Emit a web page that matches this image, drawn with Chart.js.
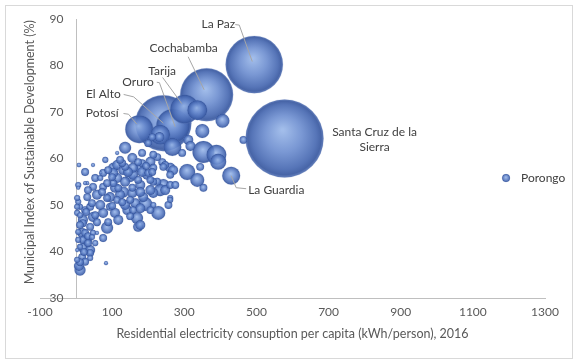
<!DOCTYPE html>
<html>
<head>
<meta charset="utf-8">
<script src="https://cdn.jsdelivr.net/npm/chart.js@4/dist/chart.umd.min.js"></script>
<style>
html,body{margin:0;padding:0;background:#fff;}
#wrap{width:582px;height:363px;position:relative;}
</style>
</head>
<body>
<div id="wrap"><canvas id="c" width="582" height="363"></canvas></div>
<script>
// ---- data ----
const cityNames = ['Santa Cruz de la Sierra','La Paz','El Alto','Cochabamba','Oruro','Tarija','Potosí','La Guardia','Porongo'];
// residential electricity consumption per capita (kWh/person), 2016
const consumption = [
  578, 494, 242, 362, 269, 301, 175, 430, 1192,
  336, 350, 406, 464, 353, 389, 394, 308, 336, 353, 267, 233, 294, 311, 317, 344, 261, 239, 242, 225,
  261, 228, 214, 225, 136, 211, 200, 231, 214, 183, 156, 136, 183, 247, 269, 103, 75, 114, 150, 197,
  261, 8, 47, 69, 6, 114, 114, 103, 131, 178, 206, 200, 158, 136, 103, 75, 47, 67, 31, 178, 214, 233,
  186, 156, 122, 94, 58, 31, 6, 192, 242, 11, 3, 19, 47, 75, 108, 142, 169, 172, 86, 75, 39, 17, 31,
  6, 19, 39, 17, 3, 25, 11, 83, 47, 3, 261,
  3, 11, 25, 39, 19, 6, 25, 19, 33, 11, 39, 8, 53, 94, 44, 58, 136, 164, 178, 128, 158, 183, 214, 100,
  172, 206, 86, 33, 6, 25, 108, 131, 156, 178, 206, 3, 86, 114, 150, 261, 158, 214,
  25, 53, 89, 122, 144, 172, 194, 211, 117, 72, 44, 67, 100, 128, 178, 206, 150, 117, 89, 58,
  28, 11, 33, 53, 22, 11, 39, 247, 275, 256, 81
];
// municipal index of sustainable development (%)
const sustainabilityIndex = [
  64.3, 80.2, 67.6, 73.7, 67.0, 70.6, 66.3, 56.3, 55.8,
  70.4, 65.9, 68.1, 64.0, 61.4, 60.8, 59.3, 57.1, 55.4, 53.7, 62.5, 65.1, 61.2, 64.0, 62.7, 58.2, 58.0, 59.2, 54.3, 55.0,
  51.5, 48.3, 52.6, 60.3, 62.3, 64.6, 63.3, 64.6, 60.8, 61.2, 60.1, 58.2, 59.0, 58.6, 57.5, 58.0, 56.9, 55.8, 56.0, 56.5,
  54.3, 58.6, 58.6, 56.9, 54.3, 61.2, 58.6, 56.9, 57.5, 58.0, 59.3, 56.9, 56.5, 55.0, 54.7, 53.9, 53.9, 55.8, 54.7, 54.3, 55.0, 53.2,
  51.7, 52.6, 52.2, 51.7, 52.2, 51.7, 50.7, 50.2, 58.2, 49.6, 48.3, 46.8, 47.4, 48.3, 48.3, 48.9, 47.2, 45.3, 45.1, 42.9, 45.3, 44.0, 42.5,
  42.5, 40.8, 40.3, 38.8, 38.2, 37.8, 36.0, 37.5, 44.0, 40.3, 51.1,
  49.6, 47.8, 48.9, 49.6, 46.1, 44.2, 44.0, 42.5, 41.8, 41.0, 39.7, 36.9, 47.8, 49.6, 43.1, 44.0, 50.0, 50.4, 45.7, 59.0, 58.0, 57.1, 58.0, 56.0,
  55.4, 55.4, 54.7, 53.2, 53.7, 54.7, 53.7, 52.8, 53.7, 52.8, 53.2, 51.5, 51.5, 51.1, 51.1, 56.5, 48.9, 50.0,
  57.1, 55.8, 57.5, 59.7, 57.1, 59.2, 58.4, 57.1, 53.6, 52.8, 50.4, 50.0, 49.8, 50.6, 49.3, 48.9, 47.6, 46.8, 46.3, 46.3,
  48.5, 45.7, 43.3, 41.8, 39.9, 37.7, 38.6, 53.2, 54.3, 50.0, 59.7
];
// population (thousands) -> bubble size
const population = [
  1460, 790, 754, 675, 278, 202, 188, 78, 15,
  96, 47, 47, 15, 116, 96, 62, 62, 47, 15, 78, 96, 15, 24, 24, 15, 24, 15, 35, 15,
  9, 47, 24, 15, 35, 15, 15, 24, 15, 15, 24, 15, 15, 15, 24, 24, 15, 24, 24, 24,
  15, 5, 4, 2, 9, 4, 24, 24, 24, 24, 24, 15, 24, 24, 15, 15, 15, 9, 4, 24, 15, 35,
  24, 24, 24, 24, 24, 15, 9, 47, 15, 9, 9, 24, 24, 24, 24, 24, 35, 24, 35, 15, 15, 24, 24,
  9, 24, 24, 15, 9, 15, 30, 4, 9, 4, 9,
  9, 9, 15, 15, 15, 9, 15, 15, 15, 9, 15, 24, 15, 15, 9, 4, 24, 24, 24, 15, 24, 24, 15, 15,
  15, 15, 15, 15, 4, 4, 24, 30, 15, 24, 24, 9, 15, 15, 15, 15, 15, 9,
  15, 15, 15, 15, 24, 15, 15, 15, 15, 15, 15, 24, 15, 15, 24, 15, 15, 24, 15, 15,
  15, 15, 15, 9, 15, 15, 9, 24, 15, 15, 9
];
const xTickValues = [-100, 100, 300, 500, 700, 900, 1100, 1300];
const yTickValues = [30, 40, 50, 60, 70, 80, 90];
const xTitle = 'Residential electricity consuption per capita (kWh/person), 2016';
const yTitle = 'Municipal Index of Sustainable Development (%)';

// ---- build ----
const FONT = 'Lato, "Liberation Sans", sans-serif';
const radiusOf = p => 1.02 * Math.sqrt(p);
const points = consumption.map((x, i) => ({
  x: x, y: sustainabilityIndex[i], r: radiusOf(population[i]), pop: population[i],
  name: i < cityNames.length ? cityNames[i] : ''
})).sort((a, b) => b.pop - a.pop);

function bubbleFill(ctx) {
  const chart = ctx.chart;
  const raw = ctx.raw;
  const fallback = 'rgba(90,122,195,0.9)';
  if (!raw || !chart.scales || !chart.scales.x || !chart.scales.y) return fallback;
  const cx = chart.scales.x.getPixelForValue(raw.x);
  const cy = chart.scales.y.getPixelForValue(raw.y);
  const r = Math.max(raw.r, 1);
  if (!isFinite(cx) || !isFinite(cy)) return fallback;
  const g = chart.ctx.createRadialGradient(cx - r * 0.05, cy - r * 0.22, r * 0.03, cx, cy, r);
  g.addColorStop(0, 'rgba(152,182,232,0.9)');
  g.addColorStop(0.45, 'rgba(104,138,206,0.88)');
  g.addColorStop(0.82, 'rgba(68,102,176,0.9)');
  g.addColorStop(0.94, 'rgba(56,88,160,0.92)');
  g.addColorStop(1, 'rgba(86,116,182,0.9)');
  return g;
}

// label placement (pixel offsets from the bubble centre)
const labelStyle = {
  'La Paz':      {text: [[-36, -40]], align: 'center', leader: [[-19, -40], [-15, -39.5], [-2, -3]]},
  'Cochabamba':  {text: [[-23, -47]], align: 'center', leader: [[-18.5, -38], [-2.5, -5]]},
  'Tarija':      {text: [[-22.5, -38.5]], align: 'center', leader: [[-22, -31.7], [-3, -5.7]]},
  'Oruro':       {text: [[-35, -43.7]], align: 'center', leader: [[-16.3, -43.7], [-13.7, -43.3], [2, 0.7]]},
  'El Alto':     {text: [[-60, -28.7]], align: 'center', leader: [[-39.7, -28.7], [-29.7, -26.3], [0, 0]]},
  'Potosí':      {text: [[-37, -15.7]], align: 'center', leader: [[-15.7, -15.7], [-10.7, -15], [-2.3, -5]]},
  'Santa Cruz de la Sierra': {text: [[90, -6.5], [90, 8.5]], lines: ['Santa Cruz de la', 'Sierra'], align: 'center'},
  'La Guardia':  {text: [[17, 14.5]], align: 'left', leader: [[0, 0], [5, 12], [15, 13]]},
  'Porongo':     {text: [[15, 0]], align: 'left'}
};

const labelPlugin = {
  id: 'bubbleLabels',
  afterDatasetsDraw(chart) {
    const ctx = chart.ctx;
    const xs = chart.scales.x, ys = chart.scales.y;
    ctx.save();
    points.forEach(p => {
      if (!p.name) return;
      const st = labelStyle[p.name];
      if (!st) return;
      const cx = xs.getPixelForValue(p.x), cy = ys.getPixelForValue(p.y);
      if (st.leader) {
        ctx.beginPath();
        ctx.strokeStyle = '#a6a6a6';
        ctx.lineWidth = 1;
        st.leader.forEach((o, k) => {
          if (k === 0) ctx.moveTo(cx + o[0], cy + o[1]); else ctx.lineTo(cx + o[0], cy + o[1]);
        });
        ctx.stroke();
      }
      ctx.fillStyle = '#404040';
      ctx.font = '12px ' + FONT;
      ctx.textAlign = st.align;
      ctx.textBaseline = 'middle';
      const lines = st.lines || [p.name];
      lines.forEach((t, k) => ctx.fillText(t, cx + st.text[k][0], cy + st.text[k][1]));
    });
    ctx.restore();
  }
};

// vertical axis crossing the horizontal axis at x = 0 (Excel style), drawn from the y scale's own ticks
const yAxisAtZero = {
  id: 'yAxisAtZero',
  beforeDatasetsDraw(chart) {
    const ctx = chart.ctx, xs = chart.scales.x, ys = chart.scales.y;
    const x0 = Math.round(xs.getPixelForValue(0)) + 0.5;
    ctx.save();
    ctx.strokeStyle = '#bfbfbf';
    ctx.lineWidth = 1;
    ctx.beginPath();
    ctx.moveTo(x0, ys.top);
    ctx.lineTo(x0, ys.bottom);
    ctx.stroke();
    ctx.fillStyle = '#595959';
    ctx.font = '12px ' + FONT;
    ctx.textAlign = 'right';
    ctx.textBaseline = 'middle';
    ys.ticks.forEach(t => ctx.fillText(String(t.value), x0 - 13, ys.getPixelForValue(t.value)));
    ctx.restore();
  }
};

const framePlugin = {
  id: 'frame',
  beforeDraw(chart) {
    const ctx = chart.ctx;
    ctx.save();
    ctx.fillStyle = '#ffffff';
    ctx.fillRect(0, 0, chart.width, chart.height);
    ctx.strokeStyle = '#d9d9d9';
    ctx.lineWidth = 1;
    ctx.strokeRect(5.5, 5.5, 567, 353);
    ctx.restore();
  }
};

const chart = new Chart(document.getElementById('c'), {
  type: 'bubble',
  data: {
    datasets: [{
      label: 'Municipalities',
      data: points,
      backgroundColor: bubbleFill,
      borderColor: 'rgba(50,80,150,0.25)',
      borderWidth: 0.5,
      hoverRadius: 0
    }]
  },
  options: {
    responsive: false,
    animation: false,
    devicePixelRatio: 1,
    layout: {autoPadding: false, padding: {left: 0, right: 37, top: 19, bottom: 0}},
    plugins: {legend: {display: false}, tooltip: {enabled: false}},
    scales: {
      x: {
        type: 'linear', min: -100, max: 1300,
        afterBuildTicks: s => { s.ticks = xTickValues.map(v => ({value: v})); },
        grid: {display: false, drawTicks: false},
        border: {display: true, color: '#bfbfbf', width: 1},
        ticks: {color: '#595959', font: {family: FONT, size: 12}, padding: 7, maxRotation: 0, autoSkip: false,
                callback: v => String(v)},
        title: {display: true, text: xTitle, color: '#595959', font: {family: FONT, size: 12.5}, padding: {top: 4, bottom: 22}},
        afterFit: s => { s.height = 65; }
      },
      y: {
        type: 'linear', position: 'left', min: 30, max: 90,
        afterBuildTicks: s => { s.ticks = yTickValues.map(v => ({value: v})); },
        grid: {display: false, drawTicks: false},
        border: {display: false},
        ticks: {display: false},
        title: {display: true, text: '\u2002\u2002' + yTitle, color: '#595959', font: {family: FONT, size: 12.5}, padding: {top: 22, bottom: 0}},
        afterFit: s => { s.width = 40; }
      }
    }
  },
  plugins: [framePlugin, yAxisAtZero, labelPlugin]
});

// pin the plot area to the reference frame (left 40, top 19, right 545, bottom 298)
(function pinArea() {
  const target = {left: 40, top: 19, right: 545, bottom: 298};
  const pad = chart.options.layout.padding;
  for (let k = 0; k < 2; k++) {
    const ca = chart.chartArea;
    const dTop = target.top - ca.top, dLeft = target.left - ca.left;
    const dRight = ca.right - target.right, dBottom = ca.bottom - target.bottom;
    if (Math.abs(dTop) < 0.5 && Math.abs(dLeft) < 0.5 && Math.abs(dRight) < 0.5 && Math.abs(dBottom) < 0.5) break;
    pad.top += dTop; pad.left += dLeft; pad.right += dRight; pad.bottom += dBottom;
    chart.update();
  }
})();
</script>
</body>
</html>
